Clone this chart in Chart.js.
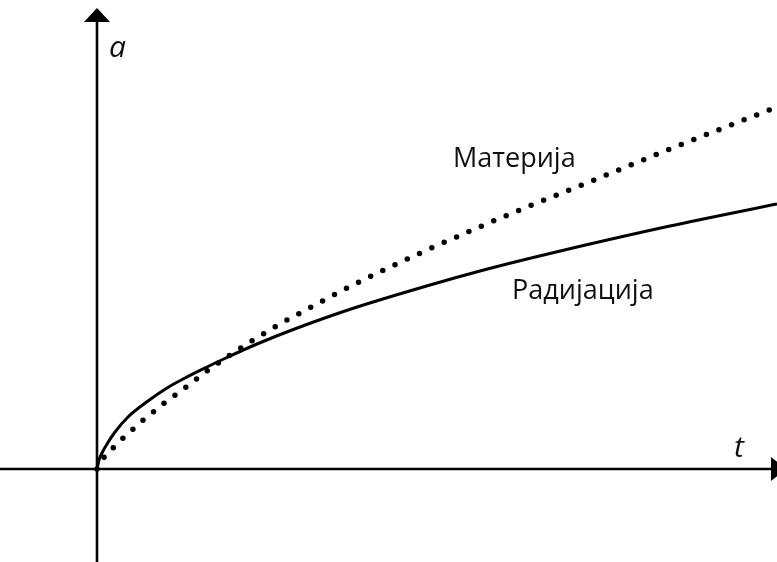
<!DOCTYPE html>
<html>
<head>
<meta charset="utf-8">
<script src="https://cdn.jsdelivr.net/npm/chart.js@4.4.0/dist/chart.umd.min.js"></script>
<style>
  html, body { margin: 0; padding: 0; background: #fff; }
  canvas { display: block; }
</style>
</head>
<body>
<canvas id="plot" width="777" height="562"></canvas>
<script>
// scale factor a(t): radiation era vs matter era
const radiationT = [0, 2, 5, 10, 18, 31, 51, 70, 88, 110, 131, 160, 195, 254, 333, 383, 430, 480, 573, 680];
const radiationA = [0, 9, 16, 25, 37, 52, 68, 81, 91, 102, 112, 125, 139, 160, 184, 198, 210, 222, 243, 265];

const matterT = [0, 5, 10, 16, 25, 35, 45, 55, 66, 77, 88, 110, 133, 158, 183, 218, 254, 291, 330, 380, 430, 480, 573, 680];
const matterA = [0, 9, 15, 21, 30, 39, 48, 56, 65, 73, 81, 98, 114, 130, 145, 164, 183, 201, 219, 241, 262, 282, 320, 362];

const T_MIN = -97, T_MAX = 680;
const A_MIN = -93, A_MAX = 469;

// text labels: [text, t, a, font]
const labels = [
  ["Материја", 356, 302, "27px 'Open Sans'"],
  ["Радијација", 415, 170, "27px 'Open Sans'"],
  ["a", 12, 412, "italic 30px 'Open Sans'"],
  ["t", 637, 12, "italic 30px 'Open Sans'"]
];

function toPoints(xs, ys) {
  return xs.map((x, i) => ({ x: x, y: ys[i] }));
}

// axes with arrow heads + text
const axesPlugin = {
  id: "axes",
  beforeDatasetsDraw(chart) {
    const ctx = chart.ctx;
    const xs = chart.scales.x, ys = chart.scales.y;
    const ox = xs.getPixelForValue(0);
    const oy = ys.getPixelForValue(0);
    ctx.save();
    ctx.strokeStyle = "#000";
    ctx.fillStyle = "#000";
    ctx.lineWidth = 2.6;

    // horizontal axis
    ctx.beginPath();
    ctx.moveTo(xs.getPixelForValue(T_MIN), oy);
    ctx.lineTo(771, oy);
    ctx.stroke();
    ctx.beginPath();
    ctx.moveTo(771, oy - 12);
    ctx.lineTo(786, oy);
    ctx.lineTo(771, oy + 12);
    ctx.closePath();
    ctx.fill();

    // vertical axis
    ctx.beginPath();
    ctx.moveTo(ox, ys.getPixelForValue(A_MIN));
    ctx.lineTo(ox, 22);
    ctx.stroke();
    ctx.beginPath();
    ctx.moveTo(ox - 13, 22);
    ctx.lineTo(ox, 8);
    ctx.lineTo(ox + 13, 22);
    ctx.closePath();
    ctx.fill();
    ctx.restore();
  },
  afterDatasetsDraw(chart) {
    const ctx = chart.ctx;
    const xs = chart.scales.x, ys = chart.scales.y;
    ctx.save();
    ctx.fillStyle = "#111";
    ctx.textBaseline = "alphabetic";
    ctx.textAlign = "left";
    labels.forEach(l => {
      ctx.font = l[3];
      ctx.fillText(l[0], xs.getPixelForValue(l[1]), ys.getPixelForValue(l[2]));
    });
    ctx.restore();
  }
};

new Chart(document.getElementById("plot").getContext("2d"), {
  type: "line",
  data: {
    datasets: [
      {
        label: "Радијација",
        data: toPoints(radiationT, radiationA),
        borderColor: "#000",
        borderWidth: 3,
        pointRadius: 0,
        cubicInterpolationMode: "monotone",
        fill: false
      },
      {
        label: "Материја",
        data: toPoints(matterT, matterA),
        borderColor: "#000",
        borderWidth: 5.5,
        borderDash: [0, 13.5],
        borderCapStyle: "round",
        pointRadius: 0,
        cubicInterpolationMode: "monotone",
        fill: false
      }
    ]
  },
  options: {
    responsive: false,
    animation: false,
    layout: { padding: 0 },
    plugins: {
      legend: { display: false },
      tooltip: { enabled: false }
    },
    scales: {
      x: { type: "linear", min: T_MIN, max: T_MAX, display: false },
      y: { type: "linear", min: A_MIN, max: A_MAX, display: false }
    }
  },
  plugins: [axesPlugin]
});
</script>
</body>
</html>
